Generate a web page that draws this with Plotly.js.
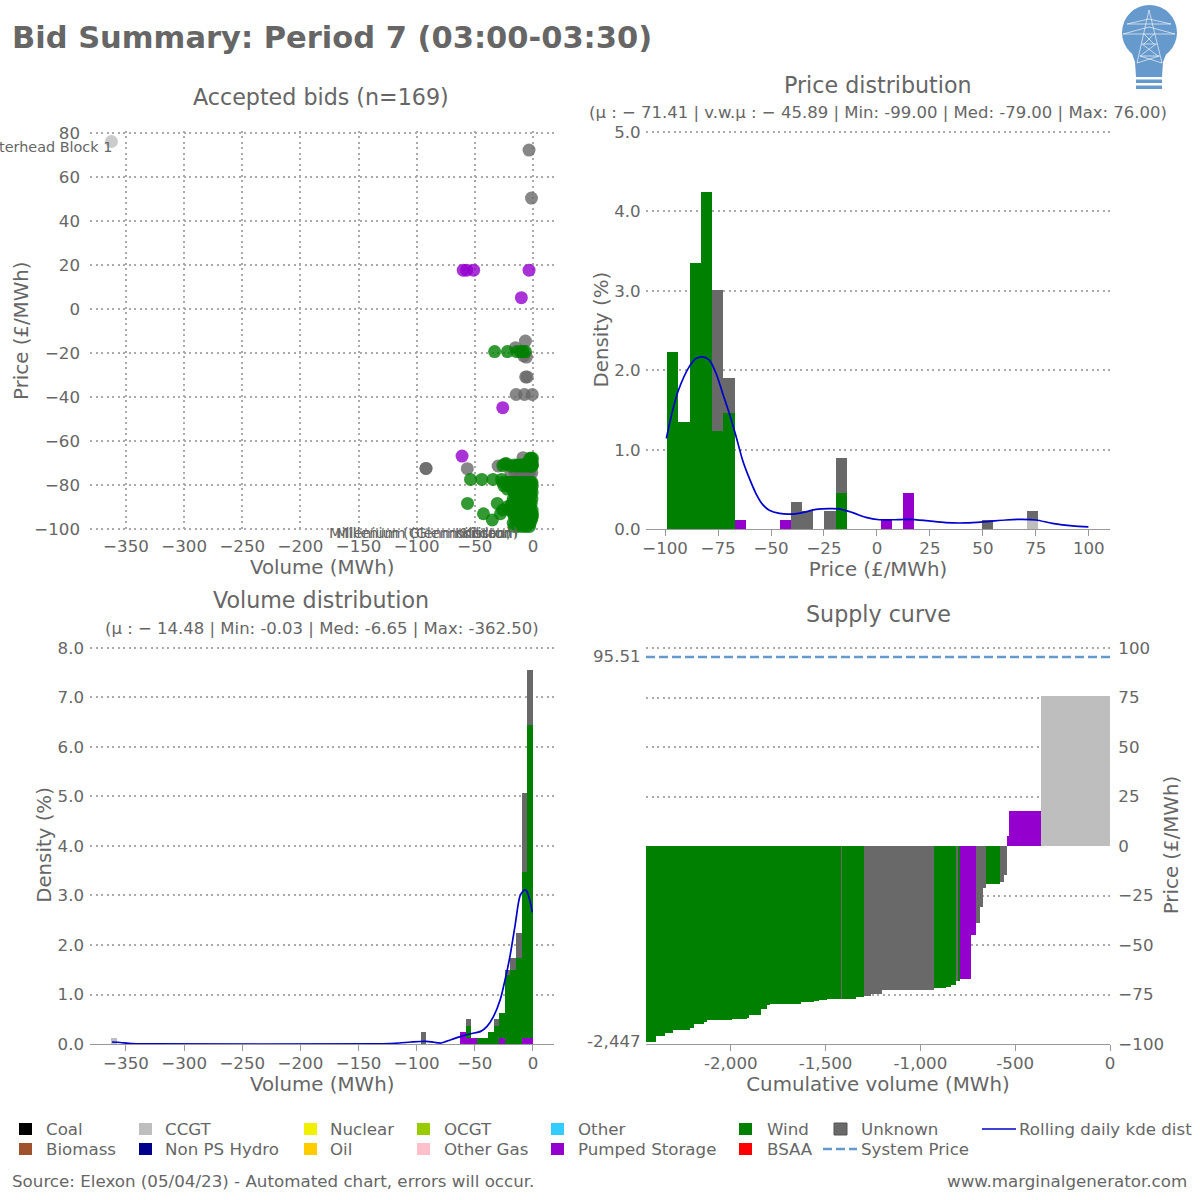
<!DOCTYPE html>
<html>
<head>
<meta charset="utf-8">
<script src="https://cdn.plot.ly/plotly-3.0.1.min.js"></script>
<style>html,body{margin:0;padding:0;background:#fff}#chart{width:1200px;height:1200px}</style>
</head>
<body>
<div id="chart"></div>
<script>
// ---------- accepted bids (volume MWh, price £/MWh) ----------
const ccgtBidVol = [-362.5];
const ccgtBidPrice = [76];
const pumpedBidVol = [-60, -57, -51, -3.4, -10, -26, -61];
const pumpedBidPrice = [17.5, 17.5, 17.5, 17.5, 5, -45, -67];
const unknownBidVol = [-3.4, -1.3, -6.5, -15, -8, -5.7, -6.3, -5, -14.5, -7.4, -0.6, -92, -92, -56.5, -30, -8.6, -19, -15, -12, -9, -6, -3, -1];
const unknownBidPrice = [72.1, 50.3, -14.7, -17.7, -21.5, -22, -31, -31, -39, -39, -39, -72.6, -72.6, -72.7, -71.5, -67.7, -74.6, -74.6, -74.6, -74.6, -74.6, -74.6, -74.6];
const windBidPriceLevels = [-19.5, -68, -69.5, -70.5, -71, -71.3, -71.6, -77.6, -79, -80.5, -82, -83.5, -85, -86.5, -88.5, -90, -91.5, -93.2, -94.5, -95, -96, -97.5, -99];
const windBidVolsByLevel = [
  [-33, -22, -14, -10.8, -8.5, -6.5],
  [-0.5, -1.5, -2.5],
  [-0.8, -4],
  [-24, -22.7],
  [-16, -13, -11, -9, -7, -5, -3, -1.2, -0.3],
  [-26, -12, -8, -4, -1.5],
  [-19, -14, -10, -6, -2.6, -0.9],
  [-53.7, -44, -34.4, -27],
  [-26, -23, -19, -15, -12, -8, -5, -1.6, -22, -18, -14, -10, -6, -3, -0.8],
  [-25, -21, -17, -13, -9, -6, -3, -0.6],
  [-22, -18, -14, -11, -7, -4, -1.4],
  [-16, -13, -9, -6, -2.5, -0.7],
  [-15, -12, -8, -5, -1.8],
  [-17, -13, -10, -6, -3, -0.9],
  [-56.3, -30.7, -18, -14, -11, -7, -4, -1.5],
  [-22, -19, -15, -12, -8, -5, -2.4],
  [-26, -20, -16, -13, -9, -6, -3, -0.8],
  [-42.6, -28, -17, -14, -10, -7, -4, -1.6, -0.4],
  [-16, -12, -8, -5, -2, -0.6],
  [-15, -9.5, -6.5, -3.5, -1],
  [-35, -14, -11, -7, -4, -1.4],
  [-17, -12, -9, -5, -2.5],
  [-16, -13, -9, -6, -3]
];
const bidLabels = ['Peterhead Block 1', 'Millenium (Glenmoriston)', 'Millenium (Glenmoriston)', 'Kilbraur', 'Kildrum'];
const bidLabelVol = [-362.5, -14.6, -8.6, -14.6, -8.6];
const bidLabelPrice = [76, -99, -99, -99, -99];

// ---------- price distribution ----------
const priceBinStart = [-99, -93.7, -88.39, -83.09, -77.79, -72.48, -67.18, -45.97, -40.67, -35.36, -24.76, -19.45, 1.76, 12.36, 49.48, 70.7];
const priceBinWidth = 5.303;
const priceHistCcgt = [0, 0, 0, 0, 0, 0, 0, 0, 0, 0, 0, 0, 0, 0, 0, 0.117];
const priceHistPumped = [0, 0, 0, 0, 0, 0, 0.117, 0.117, 0, 0, 0, 0, 0.117, 0.457, 0, 0];
const priceHistWind = [2.23, 1.35, 3.35, 4.24, 1.24, 1.46, 0, 0, 0, 0, 0, 0.46, 0, 0, 0, 0];
const priceHistUnknown = [0, 0, 0, 0, 1.77, 0.44, 0, 0, 0.34, 0.23, 0.23, 0.44, 0, 0, 0.117, 0.117];
const priceKdeX = [-99.4, -96.4, -93.7, -88.5, -85.4, -82.2, -79.1, -75.9, -72.8, -69.7, -66.5, -63.4, -60.2, -57.1, -53.9, -50.8, -46, -41.4, -35.1, -28.8, -22.5, -17.8, -11.5, -5.2, 1.1, 7.4, 15.2, 23.1, 32.5, 42, 51.4, 60.8, 68.7, 75, 82.8, 92.3, 99.8];
const priceKdeY = [1.145, 1.5, 1.75, 2.05, 2.15, 2.17, 2.13, 1.96, 1.71, 1.46, 1.17, 0.87, 0.64, 0.45, 0.31, 0.24, 0.2, 0.19, 0.21, 0.25, 0.26, 0.256, 0.21, 0.15, 0.12, 0.12, 0.126, 0.11, 0.084, 0.08, 0.096, 0.117, 0.126, 0.117, 0.075, 0.042, 0.03];

// ---------- volume distribution ----------
const volBinStart = [-362.5, -96.68, -62.86, -58.03, -53.19, -48.36, -43.53, -38.7, -33.86, -29.03, -24.2, -19.36, -14.53, -9.7, -4.86];
const volBinWidth = 4.833;
const volHistCcgt = [0.12, 0, 0, 0, 0, 0, 0, 0, 0, 0, 0, 0, 0, 0, 0];
const volHistPumped = [0, 0, 0.24, 0.12, 0.12, 0, 0, 0, 0, 0.12, 0, 0, 0, 0.12, 0.12];
const volHistWind = [0, 0, 0, 0.24, 0, 0.12, 0.12, 0.24, 0.36, 0.5, 1.4, 1.5, 1.73, 3.35, 6.33];
const volHistUnknown = [0, 0.24, 0, 0.14, 0, 0, 0, 0, 0.14, 0, 0.1, 0.23, 0.51, 1.61, 1.11];
const volKdeX = [-362, -355, -345, -330, -130, -115, -105, -92, -85, -79, -70.6, -62, -53.7, -45, -39.5, -33.9, -28.2, -24, -19.8, -15.5, -11.3, -8.5, -6.2, -4.2, -2.3, -0.56];
const volKdeY = [0.04, 0.03, 0.01, 0.005, 0.005, 0.02, 0.04, 0.055, 0.035, 0.02, 0.087, 0.154, 0.208, 0.255, 0.356, 0.557, 0.893, 1.3, 1.77, 2.38, 2.98, 3.09, 3.11, 3.02, 2.86, 2.66];

// ---------- supply curve ----------
const supplyEdges = [-2447, -2395, -2347, -2305, -2216, -2195, -2140, -2123, -1991, -1916, -1904, -1842, -1811, -1795, -1632, -1561, -1535, -1491, -1421, -1416, -1337, -1295, -1263, -1200, -926, -863, -837, -811, -800, -789, -732, -705, -684, -668, -653, -579, -558, -542, -532, -363, 0];
const supplyPrice = [-98.8, -96, -94.5, -93, -92, -90, -88.7, -88, -87.4, -86.9, -85.2, -82.4, -80.3, -79.8, -78.8, -78.3, -77.8, -77.3, -77.3, -77.3, -76.3, -75.6, -74.8, -72.6, -71.8, -71.3, -70.3, -68.2, -68.2, -67.1, -45, -39, -30.9, -21.3, -19.3, -18.3, -14.8, 4.9, 17.5, 76];
const supplyFuel = ['W', 'W', 'W', 'W', 'W', 'W', 'W', 'W', 'W', 'W', 'W', 'W', 'W', 'W', 'W', 'W', 'W', 'W', 'U', 'W', 'W', 'U', 'U', 'U', 'W', 'W', 'W', 'U', 'W', 'P', 'P', 'U', 'U', 'U', 'W', 'U', 'U', 'P', 'P', 'C'];
const systemPrice = 95.51;
const totalVolume = -2447;

// ---------- texts ----------
const pageTitle = 'Bid Summary: Period 7 (03:00-03:30)';
const scatterTicksX = [-350, -300, -250, -200, -150, -100, -50, 0];
const scatterTicksY = [-100, -80, -60, -40, -20, 0, 20, 40, 60, 80];
const priceTicksX = [-100, -75, -50, -25, 0, 25, 50, 75, 100];
const densityTicksPrice = [0, 1, 2, 3, 4, 5];
const densityTicksVol = [0, 1, 2, 3, 4, 5, 6, 7, 8];
const supplyTicksX = [-2000, -1500, -1000, -500, 0];
const supplyTickText = ['-2,000', '-1,500', '-1,000', '-500', '0'];
const supplyTicksY = [-100, -75, -50, -25, 0, 25, 50, 75, 100];

const legendNames = ['Coal', 'Biomass', 'CCGT', 'Non PS Hydro', 'Nuclear', 'Oil', 'OCGT', 'Other Gas', 'Other', 'Pumped Storage', 'Wind', 'BSAA', 'Unknown'];
const legendColors = ['#000000', '#A0522D', '#BEBEBE', '#00008B', '#F0F000', '#FFCC00', '#99CC00', '#FFC0CB', '#33CCFF', '#9400CD', '#008000', '#FF0000', '#696969'];

// ---------- style ----------
const TXT = '#666666', GRID = '#aaaaaa', AXC = '#999999';
const WIND = '#008000', UNK = '#696969', PUMP = '#9400CD', CCGT = '#BEBEBE', KDE = '#0000CD', SYS = '#6699CC';
const FF = '"DejaVu Sans", sans-serif';
const px = v => v / 1200;          // horizontal page pixel to paper
const py = v => 1 - v / 1200;      // vertical page pixel to paper
const dom = (a, b) => [a / 1200, b / 1200];
const domY = (top, bottom) => [1 - bottom / 1200, 1 - top / 1200];

const traces = [];
function bars(x, y, width, color, xa, ya) {
  traces.push({type: 'bar', x, y, width, offset: 0, xaxis: xa, yaxis: ya,
    marker: {color, line: {width: 0}}, hoverinfo: 'skip', showlegend: false});
}
function dots(x, y, color) {
  traces.push({type: 'scatter', mode: 'markers', x, y, xaxis: 'x', yaxis: 'y', cliponaxis: false,
    marker: {size: 13, color, opacity: 0.8, line: {width: 0}}, showlegend: false});
}

// scatter
const windBidVol = windBidVolsByLevel.flat();
const windBidPrice = windBidVolsByLevel.flatMap((r, i) => r.map(() => windBidPriceLevels[i]));
dots(ccgtBidVol, ccgtBidPrice, CCGT);
dots(pumpedBidVol, pumpedBidPrice, PUMP);
dots(unknownBidVol, unknownBidPrice, UNK);
dots(windBidVol, windBidPrice, WIND);

// price histogram
bars(priceBinStart, priceHistCcgt, priceBinWidth, CCGT, 'x2', 'y2');
bars(priceBinStart, priceHistPumped, priceBinWidth, PUMP, 'x2', 'y2');
bars(priceBinStart, priceHistWind, priceBinWidth, WIND, 'x2', 'y2');
bars(priceBinStart, priceHistUnknown, priceBinWidth, UNK, 'x2', 'y2');
traces.push({type: 'scatter', mode: 'lines', x: priceKdeX, y: priceKdeY, xaxis: 'x2', yaxis: 'y2',
  line: {color: KDE, width: 1.7, shape: 'spline', smoothing: 0.8}, showlegend: false});

// volume histogram
bars(volBinStart, volHistCcgt, volBinWidth, CCGT, 'x3', 'y3');
bars(volBinStart, volHistPumped, volBinWidth, PUMP, 'x3', 'y3');
bars(volBinStart, volHistWind, volBinWidth, WIND, 'x3', 'y3');
bars(volBinStart, volHistUnknown, volBinWidth, UNK, 'x3', 'y3');
traces.push({type: 'scatter', mode: 'lines', x: volKdeX, y: volKdeY, xaxis: 'x3', yaxis: 'y3',
  line: {color: KDE, width: 1.7, shape: 'spline', smoothing: 0.8}, showlegend: false});

// supply curve
[['W', WIND], ['U', UNK], ['P', PUMP], ['C', CCGT]].forEach(([code, color]) => {
  const idx = supplyFuel.map((f, i) => f === code ? i : -1).filter(i => i >= 0);
  bars(idx.map(i => supplyEdges[i]), idx.map(i => supplyPrice[i]),
       idx.map(i => supplyEdges[i + 1] - supplyEdges[i]), color, 'x4', 'y4');
});
traces.push({type: 'scatter', mode: 'lines', x: [totalVolume, 0], y: [systemPrice, systemPrice], xaxis: 'x4', yaxis: 'y4',
  line: {color: SYS, width: 2.5, dash: '9px,4px'}, showlegend: false});

// ---------- axes ----------
const tickFont = {family: FF, size: 16.67, color: TXT};
const axTitle = (text, standoff) => ({text, standoff, font: {family: FF, size: 19.8, color: TXT}});
const yGrid = {showgrid: true, gridcolor: GRID, griddash: '2px,3.5px', gridwidth: 2, zeroline: false, showline: false, ticks: '', tickfont: tickFont};
const xBase = {showgrid: false, zeroline: false, showline: true, linecolor: AXC, linewidth: 1, ticks: 'outside', ticklen: 6, tickcolor: AXC, tickwidth: 1, tickfont: tickFont, ticklabelstandoff: -2};
const hidden = 'rgba(0,0,0,0)';

// ---------- text annotations ----------
const ann = [];
function note(text, x, y, size, anchor, extra) {
  ann.push(Object.assign({text, x: px(x), y: py(y), xref: 'paper', yref: 'paper', xanchor: anchor || 'center', yanchor: 'middle',
    showarrow: false, font: {family: FF, size, color: TXT}}, extra || {}));
}
note('Accepted bids (n=169)', 321, 97, 22.2);
note('Price distribution', 878, 85, 22.2);
note('(μ : − 71.41 | v.w.μ : − 45.89 | Min: -99.00 | Med: -79.00 | Max: 76.00)', 878, 112, 16.5);
note('Volume distribution', 321, 600, 22.2);
note('(μ : − 14.48 | Min: -0.03 | Med: -6.65 | Max: -362.50)', 322, 628, 16.5);
note('Supply curve', 878, 614, 22.2);
note('Source: Elexon (05/04/23) - Automated chart, errors will occur.', 10, 1181, 16.7, 'left');
note('www.marginalgenerator.com', 1189, 1181, 16.7, 'right');

bidLabels.forEach((t, i) => ann.push({text: t, x: bidLabelVol[i], y: bidLabelPrice[i], xref: 'x', yref: 'y',
  xanchor: 'right', yanchor: 'top', xshift: i === 0 ? 3 : -3, yshift: i === 0 ? 5 : 4, showarrow: false, font: {family: FF, size: 14.4, color: TXT}}));

ann.push({text: String(systemPrice), x: totalVolume, y: systemPrice, xref: 'x4', yref: 'y4', xanchor: 'right', yanchor: 'middle',
  xshift: -3, showarrow: false, font: tickFont});
ann.push({text: totalVolume.toLocaleString('en-GB'), x: totalVolume, y: supplyPrice[0], xref: 'x4', yref: 'y4', xanchor: 'right', yanchor: 'middle',
  xshift: -3, showarrow: false, font: tickFont});

// ---------- legend drawn as chips and text ----------
const shapes = [];
const chipLeft = [19, 19, 139, 139, 304, 304, 417, 417, 551, 551, 739, 739, 834];
const labelLeft = [43.5, 43.5, 162.5, 162.5, 328, 328, 441.5, 441.5, 576, 576, 765, 765, 858.5];
const rowCenter = [1129, 1149];
legendNames.forEach((name, i) => {
  const row = i === 12 ? 0 : i % 2, cy = rowCenter[row];
  shapes.push({type: 'rect', xref: 'paper', yref: 'paper', x0: px(chipLeft[i]), x1: px(chipLeft[i] + 13), y0: py(cy + 6), y1: py(cy - 6),
    fillcolor: legendColors[i], line: {width: i === 12 ? 1 : 0, color: '#555555'}});
  note(name, labelLeft[i], cy, 16.67, 'left');
});
shapes.push({type: 'line', xref: 'paper', yref: 'paper', x0: px(982), x1: px(1016), y0: py(1129), y1: py(1129), line: {color: KDE, width: 1.7}});
note('Rolling daily kde dist', 1017, 1129, 16.67, 'left');
shapes.push({type: 'line', xref: 'paper', yref: 'paper', x0: px(823), x1: px(857), y0: py(1149), y1: py(1149), line: {color: SYS, width: 2.5, dash: '9px,4px'}});
note('System Price', 858.5, 1149, 16.67, 'left');

// ---------- logo ----------
const pth = pts => pts.map((p, i) => (i ? 'L' : 'M') + px(p[0]).toFixed(5) + ',' + py(p[1]).toFixed(5)).join(' ');
const logoBlue = '#6699CC';
shapes.push({type: 'circle', xref: 'paper', yref: 'paper', x0: px(1122), x1: px(1177), y0: py(60), y1: py(5), fillcolor: logoBlue, line: {width: 0}});
shapes.push({type: 'path', xref: 'paper', yref: 'paper', path: pth([[1128, 42], [1171, 42], [1163, 62], [1162, 77], [1136, 77], [1135, 62]]) + ' Z', fillcolor: logoBlue, line: {width: 0}});
[[79.5, 83], [85.5, 89]].forEach(b => shapes.push({type: 'rect', xref: 'paper', yref: 'paper', x0: px(1136), x1: px(1162), y0: py(b[1]), y1: py(b[0]), fillcolor: logoBlue, line: {width: 0}}));
const pylon = [
  [[1149, 10], [1137, 63]], [[1149, 10], [1162, 63]],
  [[1127, 24], [1171, 24]], [[1127, 24], [1149, 19]], [[1171, 24], [1149, 19]],
  [[1123, 34], [1175, 34]], [[1123, 34], [1149, 27]], [[1175, 34], [1149, 27]],
  [[1144, 34], [1154, 44]], [[1154, 34], [1144, 44]], [[1142, 44], [1157, 44]],
  [[1142, 44], [1158, 56]], [[1156, 44], [1140, 56]], [[1140, 56], [1160, 56]],
  [[1140, 56], [1162, 63]], [[1159, 56], [1137, 63]]
];
pylon.forEach(l => shapes.push({type: 'path', xref: 'paper', yref: 'paper', path: pth(l), opacity: 0.8, line: {color: '#ffffff', width: 0.8}}));

const layout = {
  width: 1200, height: 1200, margin: {l: 0, r: 0, t: 0, b: 0}, paper_bgcolor: '#fff', plot_bgcolor: '#fff',
  font: {family: FF, color: TXT}, showlegend: false, barmode: 'stack', bargap: 0,
  title: {text: '<b>' + pageTitle + '</b>', x: 12 / 1200, xanchor: 'left', xref: 'paper', y: py(37), yanchor: 'middle', yref: 'paper',
    font: {family: FF, size: 30.5, color: TXT}},
  // accepted bids: the plot box is 2px larger than the outer gridlines, so the first and last gridlines are kept
  xaxis: Object.assign({}, yGrid, {domain: dom(90.4, 554), range: [-380.6, 18.07], tickvals: scatterTicksX, anchor: 'y', ticks: 'outside', ticklen: 0, tickcolor: hidden,
    title: axTitle('Volume (MWh)', 0)}),
  yaxis: Object.assign({}, yGrid, {domain: domY(130.7, 530.7), range: [-100.91, 80.91], tickvals: scatterTicksY, anchor: 'x', ticks: 'outside', ticklen: 6, tickcolor: hidden,
    title: axTitle('Price (£/MWh)', 0)}),
  // price distribution
  xaxis2: Object.assign({}, xBase, {domain: dom(646, 1110), range: [-109, 110], tickvals: priceTicksX, anchor: 'y2',
    title: axTitle('Price (£/MWh)', 0)}),
  yaxis2: Object.assign({}, yGrid, {domain: domY(130, 529.3), range: [0, 5.025], tickvals: densityTicksPrice, tickformat: '.1f', anchor: 'x2', ticks: 'outside', ticklen: 1, tickcolor: hidden,
    title: axTitle('Density (%)', 0)}),
  // volume distribution
  xaxis3: Object.assign({}, xBase, {domain: dom(90.4, 554), range: [-380.6, 18.07], tickvals: scatterTicksX, anchor: 'y3',
    title: axTitle('Volume (MWh)', 0)}),
  yaxis3: Object.assign({}, yGrid, {domain: domY(646, 1044), range: [0, 8.04], tickvals: densityTicksVol, tickformat: '.1f', anchor: 'x3', ticks: 'outside', ticklen: 2, tickcolor: hidden,
    title: axTitle('Density (%)', 0)}),
  // supply curve
  xaxis4: Object.assign({}, xBase, {domain: dom(646, 1110), range: [totalVolume, 0], tickvals: supplyTicksX, ticktext: supplyTickText, anchor: 'y4',
    title: axTitle('Cumulative volume (MWh)', 0)}),
  yaxis4: Object.assign({}, yGrid, {domain: domY(646, 1044), range: [-100, 101.01], tickvals: supplyTicksY, side: 'right', anchor: 'x4', ticks: 'outside', ticklen: 4, tickcolor: hidden,
    zeroline: true, zerolinecolor: '#ffffff', zerolinewidth: 3, title: axTitle('Price (£/MWh)', 1)}),
  annotations: ann,
  shapes
};

Plotly.newPlot('chart', traces, layout, {displayModeBar: false, staticPlot: true});
</script>
</body>
</html>
